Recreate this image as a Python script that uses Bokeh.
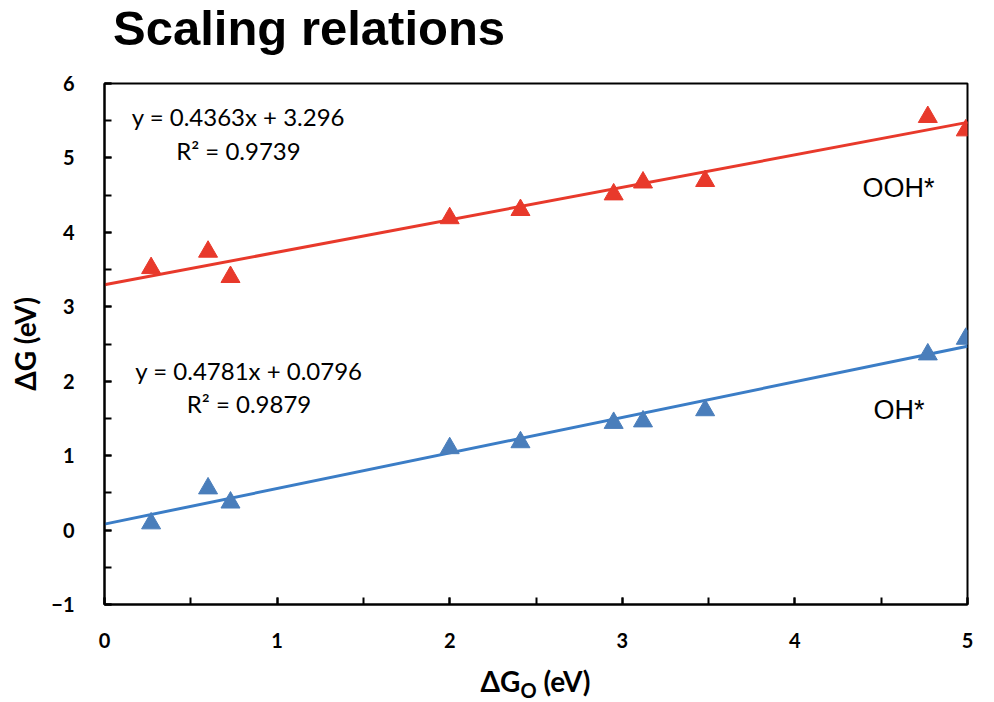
from bokeh.plotting import figure
from bokeh.models import Range1d, SingleIntervalTicker, Label, ColumnDataSource, Div
from bokeh.layouts import column
from bokeh.embed import file_html
from bokeh.resources import INLINE

# ---- data ----
dg_o = [0.27, 0.60, 0.73, 2.00, 2.41, 2.95, 3.12, 3.48, 4.77, 4.99]
dg_ooh = [3.52, 3.74, 3.40, 4.19, 4.30, 4.51, 4.67, 4.69, 5.55, 5.37]
dg_oh = [0.09, 0.56, 0.37, 1.10, 1.18, 1.44, 1.46, 1.61, 2.36, 2.57]

fit_ooh = [0.4363, 3.296]   # slope, intercept
fit_oh = [0.4781, 0.0796]
r2_ooh = 0.9739
r2_oh = 0.9879
fit_x = [0.0, 5.0]

title_text = "Scaling relations"
ylabel_text = "ΔG (eV)"
series_names = ["OOH*", "OH*"]

RED = "#E8392B"
BLUE_M = "#4A7EBB"
BLUE_L = "#3B7DC6"

W = 990
TITLE_H = 70
p = figure(width=W, height=604 - TITLE_H + 56, output_backend="svg", toolbar_location=None,
           x_range=Range1d(0, 5), y_range=Range1d(-1, 6),
           min_border_left=104, min_border_right=W - 967,
           min_border_top=83 - TITLE_H, min_border_bottom=56)
p.title = None
p.grid.visible = False
p.outline_line_color = "black"
p.outline_line_width = 2
p.background_fill_color = "white"
p.border_fill_color = "white"

for ax in (p.xaxis[0], p.yaxis[0]):
    ax.ticker = SingleIntervalTicker(interval=1, num_minor_ticks=2)
    ax.axis_line_color = "black"
    ax.axis_line_width = 2
    ax.major_tick_in = 7
    ax.major_tick_out = 0
    ax.minor_tick_in = 7
    ax.minor_tick_out = 0
    ax.major_tick_line_width = 2
    ax.minor_tick_line_width = 2
    ax.major_tick_line_color = "black"
    ax.minor_tick_line_color = "black"
    ax.major_label_text_font = "Lato"
    ax.major_label_text_font_style = "bold"
    ax.major_label_text_font_size = "20px"
    ax.major_label_text_color = "black"
p.yaxis[0].major_label_standoff = 30
p.xaxis[0].major_label_standoff = 28
p.yaxis[0].axis_label = ylabel_text
p.yaxis[0].axis_label_text_font = "Lato"
p.yaxis[0].axis_label_text_font_style = "bold"
p.yaxis[0].axis_label_text_font_size = "28px"
p.yaxis[0].axis_label_text_color = "black"
p.yaxis[0].axis_label_standoff = 6

# fit lines
def line_y(fit, xs):
    return [fit[0] * x + fit[1] for x in xs]

p.line(fit_x, line_y(fit_ooh, fit_x), line_color=RED, line_width=3)
p.line(fit_x, line_y(fit_oh, fit_x), line_color=BLUE_L, line_width=3)

src = ColumnDataSource(dict(x=dg_o, ooh=dg_ooh, oh=dg_oh))
p.scatter("x", "ooh", source=src, marker="triangle", size=19, fill_color=RED, line_color=RED)
p.scatter("x", "oh", source=src, marker="triangle", size=19, fill_color=BLUE_M, line_color=BLUE_M)

def lab(text, x, y, size, font="Lato", style="normal", align="left", baseline="middle"):
    p.add_layout(Label(x=x, y=y, text=text, text_font=font, text_font_size=size,
                       text_font_style=style, text_align=align, text_baseline=baseline,
                       text_color="black"))

# equations
lab(f"y = {fit_ooh[0]}x + {fit_ooh[1]}", 0.776, 5.56, "24px", align="center")
lab(f"R² = {r2_ooh}", 0.776, 5.10, "24px", align="center")
lab(f"y = {fit_oh[0]}x + {fit_oh[1]}", 0.837, 2.14, "24px", align="center")
lab(f"R² = {r2_oh}", 0.837, 1.70, "24px", align="center")

# series labels
lab(series_names[0], 4.392, 4.60, "27px", font="Liberation Sans")
lab(series_names[1], 4.455, 1.61, "27px", font="Liberation Sans")

# title above the plot
title_div = Div(
    text=('<div style="padding-left:113px;font-family:\'Liberation Sans\';font-weight:bold;'
          f'font-size:49px;line-height:56px;color:black;white-space:nowrap;">{title_text}</div>'),
    width=W, height=TITLE_H, margin=0)

# x axis label (with subscript) below the plot
xlabel = Div(
    text=('<div style="width:863px;margin-left:104px;text-align:center;'
          'font-family:Lato;font-weight:bold;font-size:28px;line-height:28px;'
          'padding-top:7px;color:black;">ΔG<span style="font-size:20px;position:relative;top:6px;">O</span> (eV)</div>'),
    width=W, height=40, margin=0)

layout = column(title_div, p, xlabel, spacing=0)
open("out.html", "w").write(file_html(layout, INLINE))
